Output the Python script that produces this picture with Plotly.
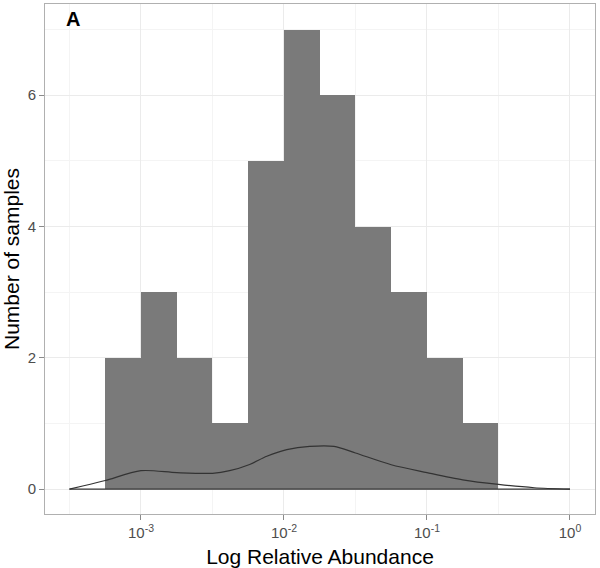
import plotly.graph_objects as go

# Histogram bins (log10 relative abundance) and counts
bin_left = [-3.25, -3.0, -2.75, -2.5, -2.25, -2.0, -1.75, -1.5, -1.25, -1.0, -0.75]
bin_width = 0.25
counts = [2, 3, 2, 1, 5, 7, 6, 4, 3, 2, 1]

# Density curve
density_x = [-3.5, -3.4, -3.25, -3.0, -2.75, -2.5, -2.38, -2.24, -2.12, -1.98, -1.82,
             -1.65, -1.5, -1.25, -1.0, -0.75, -0.5, -0.25, 0.0]
density_y = [0.0, 0.05, 0.13, 0.28, 0.25, 0.24, 0.28, 0.375, 0.5, 0.6, 0.65,
             0.65, 0.55, 0.37, 0.25, 0.14, 0.07, 0.02, 0.0]

x_tickvals = [-3, -2, -1, 0]
x_ticktext = ["10<sup>-3</sup>", "10<sup>-2</sup>", "10<sup>-1</sup>", "10<sup>0</sup>"]
x_minor = [-3.5, -2.5, -1.5, -0.5]

centers = [b + bin_width / 2 for b in bin_left]

FONT = "Liberation Sans, Arial, sans-serif"

fig = go.Figure()
fig.add_trace(go.Bar(x=centers, y=counts, width=[bin_width] * len(counts),
                     marker=dict(color="#7a7a7a", line=dict(width=0)),
                     hoverinfo="skip"))
fig.add_trace(go.Scatter(x=[density_x[0], density_x[-1]], y=[0, 0], mode="lines",
                         line=dict(color="#333333", width=1.2), hoverinfo="skip"))
fig.add_trace(go.Scatter(x=density_x, y=density_y, mode="lines",
                         line=dict(color="#333333", width=1.2, shape="spline", smoothing=0.8),
                         hoverinfo="skip"))

axis_common = dict(showline=True, mirror=True, linecolor="#b0b0b0", linewidth=1,
                   ticks="outside", ticklen=5, tickcolor="#8a8a8a", tickwidth=1,
                   gridcolor="#ebebeb", gridwidth=1, zeroline=False, automargin=False,
                   tickfont=dict(family=FONT, size=15, color="#4d4d4d"))

fig.update_layout(
    width=600, height=568,
    margin=dict(l=45, r=5, t=4, b=54),
    paper_bgcolor="white", plot_bgcolor="white",
    showlegend=False, bargap=0,
    font=dict(family=FONT, color="black"),
    xaxis=dict(range=[-3.671, 0.175], tickvals=x_tickvals, ticktext=x_ticktext,
               minor=dict(tickvals=x_minor, showgrid=True, gridcolor="#f4f4f4", ticks=""),
               title=dict(text="Log Relative Abundance", font=dict(size=21, color="black")),
               **axis_common),
    yaxis=dict(range=[-0.38, 7.39], tickvals=[0, 2, 4, 6],
               minor=dict(tickvals=[1, 3, 5, 7], showgrid=True, gridcolor="#f4f4f4", ticks=""),
               title=dict(text="Number of samples", font=dict(size=21, color="black")),
               **axis_common),
    annotations=[dict(text="<b>A</b>", xref="paper", yref="paper", x=0.034, y=0.970,
                      xanchor="left", yanchor="middle", showarrow=False,
                      font=dict(size=20, color="black"))],
)

fig.write_html("out.html", config={"displayModeBar": False},
               post_script="document.body.style.margin='0';")
